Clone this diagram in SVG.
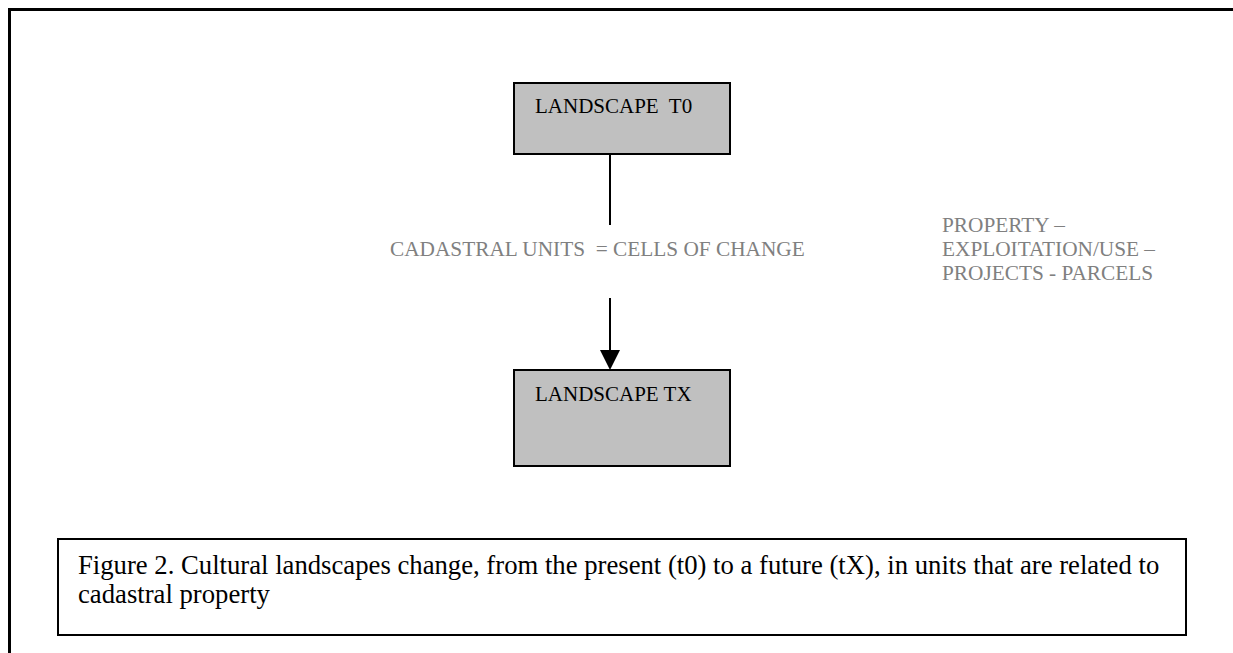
<svg xmlns="http://www.w3.org/2000/svg" width="1233" height="653" viewBox="0 0 1233 653">
  <defs>
    <style>
      .box { fill: #c0c0c0; stroke: #000; stroke-width: 2; }
      .label { font-family: "Liberation Serif", "Times New Roman", serif; font-size: 21px; fill: #000; }
      .note { font-family: "Liberation Serif", "Times New Roman", serif; font-size: 21.3px; fill: #808080; }
      .caption { font-family: "Liberation Serif", "Times New Roman", serif; font-size: 26.7px; fill: #000; }
      .edge { stroke: #000; stroke-width: 2; fill: none; }
    </style>
  </defs>
  <rect width="1233" height="653" fill="#fff"/>

  <!-- outer frame (open to the right and bottom) -->
  <path d="M9.5,653 L9.5,9.5 L1233,9.5" fill="none" stroke="#000" stroke-width="3"/>

  <g id="connectors">
    <line class="edge" x1="610" y1="154" x2="610" y2="225"/>
    <line class="edge" x1="610" y1="298" x2="610" y2="351"/>
    <path d="M600,350 L620,350 L610,370 Z" fill="#000"/>
  </g>

  <g id="node-t0">
    <rect class="box" x="514" y="83" width="216" height="71"/>
    <text class="label" x="535" y="113" xml:space="preserve">LANDSCAPE  T0</text>
  </g>

  <g id="node-tx">
    <rect class="box" x="514" y="370" width="216" height="96"/>
    <text class="label" x="535" y="401">LANDSCAPE TX</text>
  </g>

  <g id="label-cells">
    <text class="note" x="390" y="256" xml:space="preserve">CADASTRAL UNITS  = CELLS OF CHANGE</text>
  </g>

  <g id="label-property">
    <text class="note" x="942" y="232">PROPERTY –</text>
    <text class="note" x="942" y="256">EXPLOITATION/USE –</text>
    <text class="note" x="942" y="280">PROJECTS - PARCELS</text>
  </g>

  <g id="caption">
    <rect x="58" y="539" width="1128" height="96" fill="#fff" stroke="#000" stroke-width="2"/>
    <text class="caption" x="78" y="574">Figure 2. Cultural landscapes change, from the present (t0) to a future (tX), in units that are related to</text>
    <text class="caption" x="78" y="603">cadastral property</text>
  </g>
</svg>
